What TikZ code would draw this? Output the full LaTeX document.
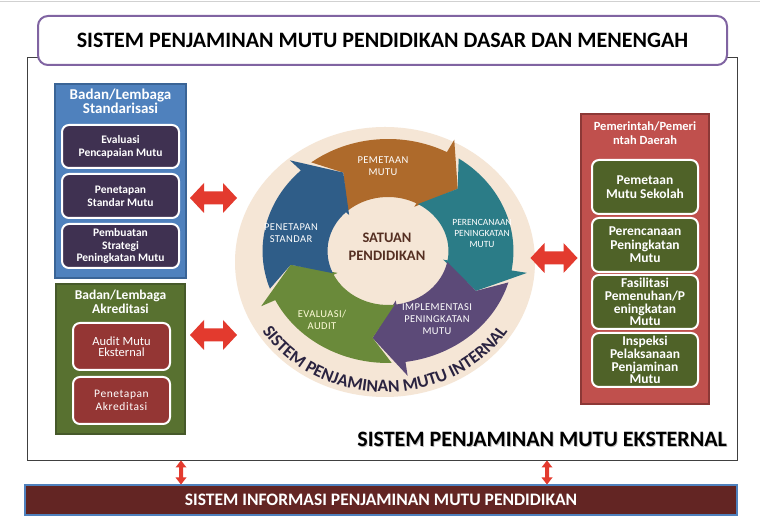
\documentclass[tikz,border=0pt]{standalone}
\usepackage{fontspec}
\setmainfont{Carlito}
\usetikzlibrary{decorations.text}
\definecolor{titlepurple}{HTML}{8064A2}
\definecolor{stdblue}{HTML}{4F81BD}
\definecolor{stdblueborder}{HTML}{3A6496}
\definecolor{darkpurple}{HTML}{3F3151}
\definecolor{accgreen}{HTML}{587130}
\definecolor{accgreenborder}{HTML}{46592A}
\definecolor{accred}{HTML}{943634}
\definecolor{govred}{HTML}{C0504D}
\definecolor{govredborder}{HTML}{8C3836}
\definecolor{olive}{HTML}{4F6228}
\definecolor{barbrown}{HTML}{632523}
\definecolor{arrowred}{HTML}{E33A2E}
\definecolor{ringbg}{HTML}{F5E6D6}
\definecolor{cycorange}{HTML}{AE6A2B}
\definecolor{cycteal}{HTML}{2B7C87}
\definecolor{cycpurple}{HTML}{5C4A78}
\definecolor{cycgreen}{HTML}{6A8A3A}
\definecolor{cycblue}{HTML}{2F5D88}
\definecolor{satbrown}{HTML}{552F22}
\definecolor{ringtext}{HTML}{2A2340}
\newcommand\cycarrow[2]{%
  \fill[#1] ({#2+82.7}:112) arc[start angle={#2+82.7}, end angle={#2+17}, radius=112]
    -- ({#2+17}:126) -- (#2:88) -- ({#2+17}:50) -- ({#2+17}:54)
    arc[start angle={#2+17}, end angle={#2+87.3}, radius=54]
    -- ({#2+72}:88) -- cycle;}
\newcommand\hdblarrow[1]{%
  \fill[arrowred] (#1) ++(-23.5,0) -- ++(14,15) -- ++(0,-8.5) -- ++(19,0) -- ++(0,8.5)
    -- ++(14,-15) -- ++(-14,-15) -- ++(0,8.5) -- ++(-19,0) -- ++(0,-8.5) -- cycle;}
\newcommand\vdblarrow[1]{%
  \fill[arrowred] (#1) ++(0,12) -- ++(5.5,-7) -- ++(-3.5,0) -- ++(0,-10) -- ++(3.5,0)
    -- ++(-5.5,-7) -- ++(-5.5,7) -- ++(3.5,0) -- ++(0,10) -- ++(-3.5,0) -- cycle;}
\tikzset{
  panel/.style={rectangle, inner sep=0pt, outer sep=0pt, line width=1.5pt},
  innerbox/.style={rectangle, rounded corners=7pt, draw=white, line width=2pt, inner sep=0pt,
    outer sep=0pt, text=white, align=center},
  hdr/.style={text=white, align=center, inner sep=0pt, font=\fontsize{15}{14}\selectfont\bfseries},
  cyclbl/.style={text=white, align=center, inner sep=0pt,
    font=\fontsize{10.5}{12}\selectfont\addfontfeature{LetterSpace=4}},
}
\begin{document}
\begin{tikzpicture}[x=1pt,y=1pt]
\useasboundingbox (0,0) rectangle (760,529);
\fill[white] (0,0) rectangle (760,529);
\draw[black!18, line width=1.5pt] (0,527.5) -- (760,527.5);
% outer frame
\node[rectangle, draw=black!75, line width=0.8pt, minimum width=710pt, minimum height=403pt,
  inner sep=0pt] (frame) at (382,270.5) {};
% title
\node[rectangle, draw=titlepurple, fill=white, line width=2pt, rounded corners=10pt,
  minimum width=689pt, minimum height=49pt, inner sep=0pt] (title) at (382.5,488.5)
  {\fontsize{22}{22}\selectfont\bfseries SISTEM PENJAMINAN MUTU PENDIDIKAN DASAR DAN MENENGAH};
% standardisation panel
\node[panel, fill=stdblue, draw=stdblueborder, minimum width=131pt, minimum height=194pt] (std) at (120.5,348) {};
\node[hdr] (stdhdr) at (120.5,427.5) {Badan/Lembaga\\Standarisasi};
\node[innerbox, fill=darkpurple, minimum width=117pt, minimum height=43pt,
  font=\fontsize{11.5}{13}\selectfont\bfseries] (std1) at (120.5,382.5) {Evaluasi\\Pencapaian Mutu};
\node[innerbox, fill=darkpurple, minimum width=117pt, minimum height=44pt,
  font=\fontsize{11.5}{13}\selectfont\bfseries] (std2) at (120.5,333) {Penetapan\\Standar Mutu};
\node[innerbox, fill=darkpurple, minimum width=117pt, minimum height=44pt,
  font=\fontsize{11.5}{12.5}\selectfont\bfseries] (std3) at (120.5,283) {Pembuatan\\Strategi\\Peningkatan Mutu};
% accreditation panel
\node[panel, fill=accgreen, draw=accgreenborder, minimum width=129pt, minimum height=150pt] (acc) at (120.5,170) {};
\node[hdr, font=\fontsize{13.5}{13.5}\selectfont\bfseries] (acchdr) at (120.5,227) {Badan/Lembaga\\Akreditasi};
\node[innerbox, fill=accred, minimum width=97pt, minimum height=47pt,
  font=\fontsize{12.5}{11.5}\selectfont] (acc1) at (121.5,182.5) {Audit Mutu\\Eksternal};
\node[innerbox, fill=accred, minimum width=97pt, minimum height=47pt,
  font=\fontsize{11.5}{12.5}\selectfont\addfontfeature{LetterSpace=5}] (acc2) at (121.5,128.5) {Penetapan\\Akreditasi};
% government panel
\node[panel, fill=govred, draw=govredborder, minimum width=128pt, minimum height=290pt] (gov) at (645,270) {};
\node[hdr, font=\fontsize{12.5}{14}\selectfont\bfseries] (govhdr) at (645,396) {Pemerintah/Pemeri\\ntah Daerah};
\node[innerbox, fill=olive, minimum width=106pt, minimum height=54pt,
  font=\fontsize{13.5}{14}\selectfont\bfseries] (gov1) at (645,342) {Pemetaan\\Mutu Sekolah};
\node[innerbox, fill=olive, minimum width=106pt, minimum height=54pt,
  font=\fontsize{13.5}{13.5}\selectfont\bfseries] (gov2) at (645,284) {Perencanaan\\Peningkatan\\Mutu};
\node[innerbox, fill=olive, minimum width=106pt, minimum height=54pt,
  font=\fontsize{13.5}{12.7}\selectfont\bfseries] (gov3) at (645,227) {Fasilitasi\\Pemenuhan/P\\eningkatan\\Mutu};
\node[innerbox, fill=olive, minimum width=106pt, minimum height=54pt,
  font=\fontsize{13.5}{12.7}\selectfont\bfseries] (gov4) at (645,169) {Inspeksi\\Pelaksanaan\\Penjaminan\\Mutu};
% internal cycle
\fill[ringbg] (385,267) ellipse[x radius=150, y radius=135];
\begin{scope}[shift={(388,278)}, xscale=1.12]
  \cycarrow{cycorange}{45}
  \cycarrow{cycteal}{-27}
  \cycarrow{cycpurple}{-99}
  \cycarrow{cycgreen}{-171}
  \cycarrow{cycblue}{117}
\end{scope}
\node[cyclbl] (l1) at (383,363) {PEMETAAN\\MUTU};
\node[cyclbl, font=\fontsize{9.5}{11}\selectfont] (l2) at (482,296) {PERENCANAAN\\PENINGKATAN\\MUTU};
\node[cyclbl] (l3) at (437,210) {IMPLEMENTASI\\PENINGKATAN\\MUTU};
\node[cyclbl, text=yellow!15!white] (l4) at (322,209) {EVALUASI/\\AUDIT};
\node[cyclbl] (l5) at (291,296) {PENETAPAN\\STANDAR};
\node[text=satbrown, align=center, inner sep=0pt, font=\fontsize{14.5}{18}\selectfont\bfseries]
  (satuan) at (387,282) {SATUAN\\PENDIDIKAN};
\path[decorate, decoration={text along path, text color=ringtext,
  text={|\fontsize{17.5}{17.5}\selectfont\bfseries|SISTEM PENJAMINAN MUTU INTERNAL}, text align=center}]
  (385,267) ++(199:145 and 130) arc[start angle=199, end angle=341, x radius=145, y radius=130];
% red connector arrows
\coordinate (a1) at (213.5,331);
\coordinate (a2) at (213.5,194);
\coordinate (a3) at (554,271);
\hdblarrow{a1}
\hdblarrow{a2}
\hdblarrow{a3}
% external label
\node[anchor=east, inner sep=0pt, text=black!25] at (727.8,88.8)
  {\fontsize{22}{22}\selectfont\bfseries SISTEM PENJAMINAN MUTU EKSTERNAL};
\node[anchor=east, inner sep=0pt] (ext) at (727,90)
  {\fontsize{22}{22}\selectfont\bfseries SISTEM PENJAMINAN MUTU EKSTERNAL};
% information system bar
\node[rectangle, fill=barbrown, draw=stdblue, line width=2pt, minimum width=712pt,
  minimum height=30pt, inner sep=0pt, text=white] (bar) at (381,29)
  {\fontsize{17.5}{17.5}\selectfont\bfseries SISTEM INFORMASI PENJAMINAN MUTU PENDIDIKAN};
\coordinate (v1) at (181,56.5);
\coordinate (v2) at (547,56.5);
\vdblarrow{v1}
\vdblarrow{v2}
\end{tikzpicture}
\end{document}
